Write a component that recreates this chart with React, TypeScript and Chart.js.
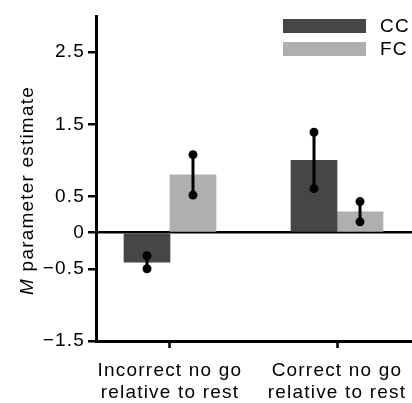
import { useEffect, useRef } from 'react';
import { Chart, registerables } from 'chart.js';

Chart.register(...registerables);

const categories = [
  ['Incorrect no go', 'relative to rest'],
  ['Correct no go', 'relative to rest'],
];
const seriesNames = ['CC', 'FC'];
const ccValues = [-0.41, 1.0];
const fcValues = [0.8, 0.29];
const ccErrors = [0.09, 0.39];
const fcErrors = [0.28, 0.14];
const yTickValues = [2.5, 1.5, 0.5, 0, -0.5, -1.5];
const yTickLabels = ['2.5', '1.5', '0.5', '0', '\u22120.5', '\u22121.5'];
const yMin = -1.5;
const yMax = 3;
const xMin = -0.443;
const xMax = 1.449;
const seriesColors = ['#464646', '#afafaf'];

const FAMILY = '"Liberation Sans", Arial, Helvetica, sans-serif';
const FONT_SIZE = 19;
const LETTER_SPACING = '1.2px';

const spacingPlugin = {
  id: 'letterSpacing',
  beforeUpdate(chart: any) {
    chart.ctx.letterSpacing = LETTER_SPACING;
  },
  beforeDraw(chart: any) {
    chart.ctx.letterSpacing = LETTER_SPACING;
  },
};

const errorBarPlugin = {
  id: 'errorBars',
  afterDatasetsDraw(chart: any) {
    const ctx = chart.ctx;
    const yScale = chart.scales.y;
    chart.data.datasets.forEach((ds: any, di: number) => {
      const meta = chart.getDatasetMeta(di);
      meta.data.forEach((bar: any, i: number) => {
        const v = ds.data[i].y;
        const e = ds.errors[i];
        const yTop = yScale.getPixelForValue(v + e);
        const yBot = yScale.getPixelForValue(v - e);
        ctx.save();
        ctx.strokeStyle = '#000';
        ctx.fillStyle = '#000';
        ctx.lineWidth = 3;
        ctx.beginPath();
        ctx.moveTo(bar.x, yTop);
        ctx.lineTo(bar.x, yBot);
        ctx.stroke();
        [yTop, yBot].forEach((py) => {
          ctx.beginPath();
          ctx.arc(bar.x, py, 4.5, 0, Math.PI * 2);
          ctx.fill();
        });
        ctx.restore();
      });
    });
  },
};

const legendPlugin = {
  id: 'insideLegend',
  afterDraw(chart: any) {
    const ctx = chart.ctx;
    const area = chart.chartArea;
    const boxW = 83;
    const boxH = 14;
    const left = area.right - 129;
    const top0 = area.top + 3;
    const rowH = 23;
    ctx.save();
    chart.data.datasets.forEach((ds: any, i: number) => {
      const top = top0 + i * rowH;
      ctx.fillStyle = ds.backgroundColor;
      ctx.fillRect(left, top, boxW, boxH);
      ctx.fillStyle = '#000';
      ctx.font = `${FONT_SIZE}px ${FAMILY}`;
      ctx.textAlign = 'left';
      ctx.textBaseline = 'middle';
      ctx.fillText(ds.label, left + boxW + 14, top + boxH / 2 + 1);
    });
    ctx.restore();
  },
};

const yTitlePlugin = {
  id: 'yTitle',
  afterDraw(chart: any) {
    const ctx = chart.ctx;
    const area = chart.chartArea;
    const italicPart = 'M';
    const rest = ' parameter estimate';
    ctx.save();
    ctx.translate(33, (area.top + area.bottom) / 2 + 12);
    ctx.rotate(-Math.PI / 2);
    ctx.fillStyle = '#000';
    ctx.textBaseline = 'alphabetic';
    ctx.textAlign = 'left';
    ctx.font = `italic ${FONT_SIZE}px ${FAMILY}`;
    const w1 = ctx.measureText(italicPart).width;
    ctx.font = `${FONT_SIZE}px ${FAMILY}`;
    const w2 = ctx.measureText(rest).width;
    const start = -(w1 + w2) / 2;
    ctx.font = `italic ${FONT_SIZE}px ${FAMILY}`;
    ctx.fillText(italicPart, start, 0);
    ctx.font = `${FONT_SIZE}px ${FAMILY}`;
    ctx.fillText(rest, start + w1, 0);
    ctx.restore();
  },
};

export default function App() {
  const canvasRef = useRef<HTMLCanvasElement | null>(null);

  useEffect(() => {
    if (!canvasRef.current) return;
    const font = { family: FAMILY, size: FONT_SIZE, lineHeight: 1.14 };
    const chart = new Chart(canvasRef.current, {
      type: 'bar',
      data: {
        datasets: [
          {
            label: seriesNames[0],
            data: ccValues.map((y, i) => ({ x: i, y })),
            errors: ccErrors,
            backgroundColor: seriesColors[0],
            borderWidth: 0,
            barThickness: 46,
          } as any,
          {
            label: seriesNames[1],
            data: fcValues.map((y, i) => ({ x: i, y })),
            errors: fcErrors,
            backgroundColor: seriesColors[1],
            borderWidth: 0,
            barThickness: 46,
          } as any,
        ],
      },
      options: {
        animation: false,
        responsive: false,
        devicePixelRatio: 1,
        layout: { padding: { top: 16, left: 0, right: 0, bottom: 0 } },
        plugins: {
          legend: { display: false },
          tooltip: { enabled: false },
          title: { display: false },
        },
        scales: {
          x: {
            type: 'linear',
            min: xMin,
            max: xMax,
            offset: false,
            afterBuildTicks: (s: any) => {
              s.ticks = categories.map((_, i) => ({ value: i }));
            },
            afterFit: (s: any) => {
              s.height = 62;
              s.paddingLeft = 0;
              s.paddingRight = 0;
            },
            ticks: {
              callback: (v: any) => categories[v as number] ?? '',
              font,
              color: '#000',
              padding: 12,
              maxRotation: 0,
              minRotation: 0,
              autoSkip: false,
            },
            grid: {
              display: true,
              offset: false,
              drawOnChartArea: false,
              drawTicks: true,
              tickLength: 7,
              tickColor: '#000',
              tickWidth: 2.5,
              color: 'rgba(0,0,0,0)',
            },
            border: { display: true, color: '#000', width: 3 },
          },
          y: {
            type: 'linear',
            min: yMin,
            max: yMax,
            z: 1,
            afterBuildTicks: (s: any) => {
              s.ticks = yTickValues.map((v) => ({ value: v }));
            },
            afterFit: (s: any) => {
              s.width = 96;
            },
            ticks: {
              callback: (v: any) => yTickLabels[yTickValues.indexOf(v)] ?? '',
              font,
              color: '#000',
              padding: 3,
              autoSkip: false,
            },
            grid: {
              display: true,
              drawOnChartArea: true,
              drawTicks: true,
              tickLength: 8,
              tickColor: '#000',
              tickWidth: 2.5,
              lineWidth: 2.5,
              color: (c: any) => (c.tick && c.tick.value === 0 ? '#000' : 'rgba(0,0,0,0)'),
            },
            border: { display: true, color: '#000', width: 3 },
          },
        },
      } as any,
      plugins: [spacingPlugin, errorBarPlugin, legendPlugin, yTitlePlugin],
    });
    return () => chart.destroy();
  }, []);

  return (
    <div style={{ position: 'fixed', left: 0, top: 0, width: 412, height: 403, background: '#fff' }}>
      <canvas ref={canvasRef} width={412} height={403} style={{ display: 'block' }} />
    </div>
  );
}
